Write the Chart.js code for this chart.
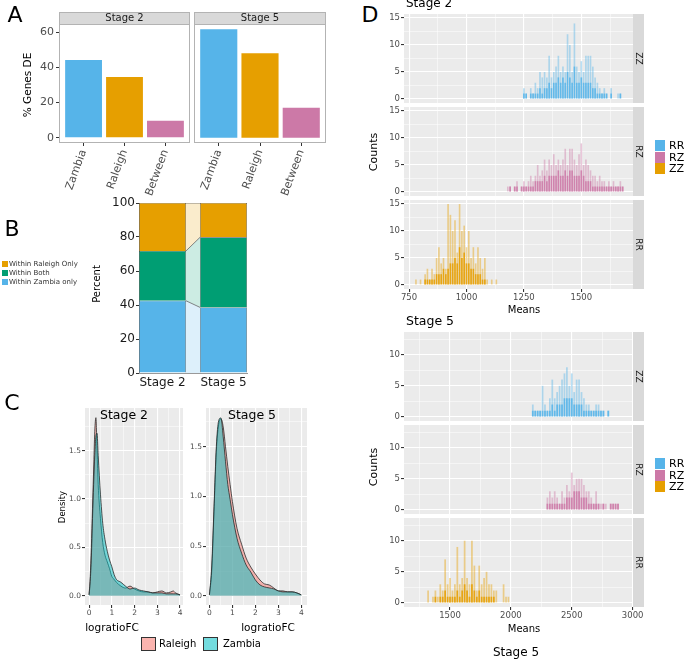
<!DOCTYPE html>
<html>
<head>
<meta charset="utf-8">
<title>DE genes by stage</title>
<script src="https://cdn.jsdelivr.net/npm/chart.js@4.4.1/dist/chart.umd.min.js"></script>
<style>
  body { margin: 0; background: #fff; }
  #fig { position: relative; width: 685px; height: 661px; overflow: hidden; font-family: "DejaVu Sans", sans-serif; }
  #fig canvas { position: absolute; }
  .lbl { position: absolute; white-space: nowrap; line-height: 1; z-index: 5; color: #000; }
  .c { transform: translate(-50%, -50%); }
  .r { transform: translate(-50%, -50%) rotate(-90deg); }
  .v { transform: translateY(-50%); }
  .key { position: absolute; z-index: 5; box-sizing: border-box; }
</style>
</head>
<body>
<div id="fig">
  <div class="lbl c" style="left:15px;top:15px;font-size:22px">A</div>
  <div class="lbl r" style="left:27px;top:85px;font-size:10.5px">% Genes DE</div>

  <div class="lbl c" style="left:12px;top:229px;font-size:22px">B</div>
  <div class="lbl r" style="left:97px;top:284px;font-size:10px">Percent</div>
  <div class="key" style="left:2px;top:261px;width:6px;height:6px;background:#E69F00"></div>
  <div class="lbl v" style="left:9px;top:264px;font-size:7px;color:#333">Within Raleigh Only</div>
  <div class="key" style="left:2px;top:270px;width:6px;height:6px;background:#009E73"></div>
  <div class="lbl v" style="left:9px;top:273px;font-size:7px;color:#333">Within Both</div>
  <div class="key" style="left:2px;top:279px;width:6px;height:6px;background:#56B4E9"></div>
  <div class="lbl v" style="left:9px;top:282px;font-size:7px;color:#333">Within Zambia only</div>

  <div class="lbl c" style="left:12px;top:403px;font-size:22px">C</div>
  <div class="lbl r" style="left:62px;top:507px;font-size:8.5px">Density</div>
  <div class="lbl c" style="left:124px;top:415px;font-size:12.5px">Stage 2</div>
  <div class="lbl c" style="left:252px;top:415px;font-size:12.5px">Stage 5</div>
  <div class="lbl c" style="left:112px;top:627px;font-size:10.5px">logratioFC</div>
  <div class="lbl c" style="left:268px;top:627px;font-size:10.5px">logratioFC</div>
  <div class="key" style="left:141px;top:637px;width:15px;height:14px;background:rgba(248,118,109,0.55);border:1.5px solid #333"></div>
  <div class="lbl v" style="left:159px;top:644px;font-size:10px">Raleigh</div>
  <div class="key" style="left:203px;top:637px;width:15px;height:14px;background:rgba(0,191,196,0.55);border:1.5px solid #333"></div>
  <div class="lbl v" style="left:223px;top:644px;font-size:10px">Zambia</div>

  <div class="lbl c" style="left:370px;top:15px;font-size:22px">D</div>
  <div class="lbl v" style="left:406px;top:3px;font-size:12px">Stage 2</div>
  <div class="lbl r" style="left:373px;top:152px;font-size:11px">Counts</div>
  <div class="lbl c" style="left:524px;top:310px;font-size:10px">Means</div>
  <div class="lbl v" style="left:406px;top:321px;font-size:12.5px">Stage 5</div>
  <div class="lbl r" style="left:373px;top:467px;font-size:11px">Counts</div>
  <div class="lbl c" style="left:524px;top:629px;font-size:10px">Means</div>
  <div class="lbl c" style="left:516px;top:652px;font-size:12px">Stage 5</div>

  <div class="key" style="left:655px;top:140px;width:10px;height:11px;background:#56B4E9"></div>
  <div class="lbl v" style="left:669px;top:145px;font-size:11px">RR</div>
  <div class="key" style="left:655px;top:151.5px;width:10px;height:11px;background:#CC79A7"></div>
  <div class="lbl v" style="left:669px;top:157px;font-size:11px">RZ</div>
  <div class="key" style="left:655px;top:163px;width:10px;height:11px;background:#E69F00"></div>
  <div class="lbl v" style="left:669px;top:168px;font-size:11px">ZZ</div>

  <div class="key" style="left:655px;top:458px;width:10px;height:11px;background:#56B4E9"></div>
  <div class="lbl v" style="left:669px;top:463px;font-size:11px">RR</div>
  <div class="key" style="left:655px;top:469.5px;width:10px;height:11px;background:#CC79A7"></div>
  <div class="lbl v" style="left:669px;top:475px;font-size:11px">RZ</div>
  <div class="key" style="left:655px;top:481px;width:10px;height:11px;background:#E69F00"></div>
  <div class="lbl v" style="left:669px;top:486px;font-size:11px">ZZ</div>
</div>
<script>
// ---- A: % genes DE ----
const groupsA = ['Zambia', 'Raleigh', 'Between'];
const stage2DE = [44.2, 34.6, 9.6];
const stage5DE = [61.7, 48.1, 17.0];
const colorsA = ['#56B4E9', '#E69F00', '#CC79A7'];
const ticksA = [0, 20, 40, 60];

// ---- B: category shares ----
const stagesB = ['Stage 2', 'Stage 5'];
const zambiaOnly = [42.5, 38.6];
const withinBoth = [29.3, 41.2];
const raleighOnly = [28.2, 20.2];
const ticksB = [0, 20, 40, 60, 80, 100];

// ---- C: logratioFC densities ----
const fcStage2 = [0, 0.05, 0.1, 0.15, 0.2, 0.25, 0.3, 0.35, 0.4, 0.5, 0.6, 0.7, 0.8, 0.9, 1.0, 1.1, 1.2, 1.4, 1.6, 1.8, 2.0, 2.2, 2.4, 2.6, 2.8, 3.0, 3.2, 3.4, 3.6, 3.7, 3.8, 4.0];
const raleighDens2 = [0.01, 0.2, 0.5, 0.9, 1.3, 1.7, 1.84, 1.5, 1.15, 0.8, 0.55, 0.42, 0.35, 0.28, 0.2, 0.17, 0.14, 0.1, 0.08, 0.1, 0.07, 0.05, 0.04, 0.04, 0.03, 0.04, 0.05, 0.03, 0.04, 0.05, 0.03, 0.01];
const zambiaDens2 = [0.01, 0.15, 0.4, 0.8, 1.15, 1.45, 1.65, 1.68, 1.45, 1.05, 0.75, 0.58, 0.46, 0.37, 0.3, 0.22, 0.17, 0.14, 0.1, 0.07, 0.08, 0.06, 0.05, 0.04, 0.03, 0.03, 0.03, 0.02, 0.02, 0.02, 0.02, 0.01];
const fcStage5 = [0, 0.1, 0.2, 0.3, 0.4, 0.5, 0.6, 0.7, 0.8, 0.9, 1.0, 1.2, 1.4, 1.6, 1.8, 2.0, 2.2, 2.4, 2.6, 2.8, 3.0, 3.2, 3.4, 3.6, 3.8, 4.0];
const raleighDens5 = [0.01, 0.25, 0.85, 1.45, 1.72, 1.78, 1.7, 1.5, 1.3, 1.12, 0.95, 0.68, 0.52, 0.38, 0.29, 0.22, 0.16, 0.12, 0.11, 0.08, 0.05, 0.05, 0.04, 0.04, 0.03, 0.01];
const zambiaDens5 = [0.01, 0.3, 0.9, 1.5, 1.76, 1.79, 1.6, 1.35, 1.12, 0.97, 0.82, 0.58, 0.43, 0.31, 0.24, 0.16, 0.11, 0.09, 0.08, 0.07, 0.05, 0.04, 0.04, 0.04, 0.03, 0.01];
const fcMajor = [0, 1, 2, 3, 4], fcMinor = [0.5, 1.5, 2.5, 3.5];
const densMajor = [0, 0.5, 1, 1.5], densMinor = [0.25, 0.75, 1.25, 1.75];

// ---- D: counts per mean bin (first bin, bin width, counts, dense core) ----
const s2ZZStart = 1250, s2RZStart = 1180, s2RRStart = 780, s2Bin = 10;
const s2ZZCounts = [2,1,0,2,1,3,2,5,4,5, 4,8,4,5,6,8,5,6,5,12, 10,5,14,6,5,7,5,8,8,8, 6,4,3,2,1,2,1,0,2,0, 0,1,1];
const s2ZZCore   = [1,1,0,1,1,1,1,2,1,2, 2,3,2,3,3,4,3,4,3,5, 4,3,6,3,3,4,3,3,3,3, 2,2,1,1,1,1,1,0,1,0, 0,0,1];
const s2RZCounts = [1,1,0,1,2,0,1,2,1,2, 3,2,3,5,3,4,6,4,6,5, 7,5,6,5,6,8,5,8,8,6, 5,7,9,5,6,5,4,3,3,2, 3,2,2,1,2,1,2,1,1,2, 1,0];
const s2RZCore   = [0,1,0,1,1,0,1,1,1,1, 1,1,2,2,2,2,3,2,3,3, 3,3,4,3,3,4,3,4,4,3, 3,3,4,3,2,2,2,1,1,1, 1,1,1,1,1,1,1,1,1,1, 1,0];
const s2RRCounts = [1,0,1,0,2,3,1,3,2,5, 7,4,5,3,15,13,10,12,6,15, 10,11,7,10,5,7,4,7,5,3, 5,1,0,1,0,1];
const s2RRCore   = [0,0,0,0,1,1,1,1,1,2, 2,2,3,2,3,4,4,5,4,7, 5,6,4,4,3,3,2,2,2,1, 1,0,0,0,0,0];
const s5ZZStart = 2180, s5RZStart = 2300, s5RRStart = 1320, s5Bin = 20;
const s5ZZCounts = [2,1,1,1,5,2,1,3,6,3, 4,5,6,7,8,5,7,4,6,6, 4,3,2,2,1,1,2,2,1,1, 0,1];
const s5ZZCore   = [1,1,1,1,1,1,1,1,2,1, 2,2,2,3,3,3,3,2,2,2, 2,1,1,1,1,1,1,1,1,1, 0,1];
const s5RZCounts = [2,3,2,3,2,1,3,2,4,3, 6,4,5,5,5,4,3,3,2,1, 3,1,1,1,1,0,1,1,1,1];
const s5RZCore   = [1,1,1,1,1,1,1,1,2,2, 2,3,3,3,2,2,2,1,1,1, 1,1,0,1,0,0,1,1,1,1];
const s5RRCounts = [2,0,1,2,1,3,2,7,3,4, 2,3,9,3,4,10,4,3,10,6, 2,6,3,4,5,3,3,2,2,0, 0,3,1,1,0];
const s5RRCore   = [0,0,0,1,0,1,1,2,1,1, 1,1,2,1,2,3,2,1,3,2, 1,2,1,1,1,1,1,1,0,0, 0,0,0,0,0];
const stage2Axes = { xr: [728, 1725], xMaj: [750, 1000, 1250, 1500], xMin: [875, 1125, 1375, 1625],
                     yr: [-0.75, 15.75], yMaj: [0, 5, 10, 15], yMin: [2.5, 7.5, 12.5] };
const stage5Axes = { xr: [1122, 3003], xMaj: [1500, 2000, 2500, 3000], xMin: [1250, 1750, 2250, 2750],
                     yr: [-0.65, 13.65], yMaj: [0, 5, 10], yMin: [2.5, 7.5, 12.5] };
const blue = '86,180,233', pink = '204,121,167', orange = '230,159,0';

Chart.defaults.font.family = "'DejaVu Sans', sans-serif";
const fig = document.getElementById('fig');
const isIn = (arr, v) => arr.some(m => Math.abs(m - v) < 1e-6);

// canvas placed so the plot area lands on rect [left, top, right, bottom]
function mount(rect, yw, pt, pr, xh) {
    const cv = document.createElement('canvas');
    const w = rect[2] - rect[0] + yw + pr;
    const h = rect[3] - rect[1] + pt + xh;
    cv.width = w; cv.height = h;
    cv.style.left = (rect[0] - yw) + 'px';
    cv.style.top = (rect[1] - pt) + 'px';
    cv.style.width = w + 'px';
    cv.style.height = h + 'px';
    fig.appendChild(cv);
    return cv;
}

// panel background, frame and facet strip
const panelPlugin = opt => ({
    id: 'panel',
    beforeDraw(chart) {
        if (!opt.bg) return;
        const { ctx, chartArea: a } = chart;
        ctx.save();
        ctx.fillStyle = opt.bg;
        ctx.fillRect(a.left, a.top, a.width, a.height);
        ctx.restore();
    },
    afterDraw(chart) {
        const { ctx, chartArea: a } = chart;
        ctx.save();
        if (opt.frame) {
            ctx.strokeStyle = opt.frame; ctx.lineWidth = 1;
            ctx.strokeRect(a.left + 0.5, a.top + 0.5, a.width - 1, a.height - 1);
        }
        const s = opt.strip;
        if (s) {
            ctx.font = s.font; ctx.textAlign = 'center'; ctx.textBaseline = 'middle';
            ctx.fillStyle = '#D9D9D9';
            if (s.side === 'top') {
                ctx.fillRect(a.left, a.top - s.size, a.width, s.size);
                ctx.strokeStyle = opt.frame; ctx.lineWidth = 1;
                ctx.strokeRect(a.left + 0.5, a.top - s.size + 0.5, a.width - 1, s.size);
                ctx.fillStyle = '#1A1A1A';
                ctx.fillText(s.text, a.left + a.width / 2, a.top - s.size / 2 + 0.5);
            } else {
                ctx.fillRect(a.right, a.top, s.size, a.height);
                ctx.translate(a.right + s.size / 2, a.top + a.height / 2);
                ctx.rotate(Math.PI / 2);
                ctx.fillStyle = '#1A1A1A';
                ctx.fillText(s.text, 0, 0);
            }
        }
        ctx.restore();
    }
});

const baseOptions = (pt, pr) => ({
    responsive: false, animation: false, devicePixelRatio: 1,
    layout: { padding: { left: 0, top: pt, right: pr, bottom: 0 } },
    plugins: { legend: { display: false }, tooltip: { enabled: false } }
});

// grey-panel axis with white major/minor grid
function ggScale(range, major, minor, fmt, show, size, fitFn) {
    const isMajor = c => c.tick && isIn(major, c.tick.value);
    return {
        type: 'linear', min: range[0], max: range[1], offset: false,
        border: { display: false },
        afterBuildTicks: s => {
            s.ticks = major.concat(minor).filter(v => v >= range[0] && v <= range[1])
                .sort((a, b) => a - b).map(v => ({ value: v }));
        },
        afterFit: fitFn,
        grid: {
            offset: false, color: '#FFFFFF',
            lineWidth: c => isMajor(c) ? 1.1 : 0.5,
            drawTicks: show, tickLength: 3,
            tickColor: c => isMajor(c) ? '#333333' : 'rgba(0,0,0,0)'
        },
        ticks: {
            display: show, autoSkip: false, minRotation: 0, maxRotation: 0, padding: 1,
            color: '#4D4D4D', font: { size }, callback: v => isIn(major, v) ? fmt(v) : ''
        }
    };
}

// ---- A ----
function barFacetA(rect, values, stripText, showY) {
    const yw = showY ? 59 : 0, pt = 24, pr = 2, xh = 57;
    const cv = mount(rect, yw, pt, pr, xh);
    new Chart(cv, {
        type: 'bar',
        data: { datasets: [{
            data: values.map((v, i) => ({ x: i + 1, y: v })),
            backgroundColor: colorsA, borderWidth: 0, barPercentage: 0.9, categoryPercentage: 1
        }] },
        options: {
            ...baseOptions(pt, pr),
            scales: {
                x: {
                    type: 'linear', min: 0.4, max: 3.6, offset: false,
                    afterBuildTicks: s => { s.ticks = groupsA.map((g, i) => ({ value: i + 1 })); },
                    afterFit: s => { s.height = xh; },
                    border: { display: false },
                    grid: { offset: false, drawOnChartArea: false, drawTicks: true, tickLength: 3, tickColor: '#333' },
                    ticks: { autoSkip: false, minRotation: 70, maxRotation: 70, padding: 2, color: '#4D4D4D',
                             font: { size: 11 }, callback: v => groupsA[v - 1] }
                },
                y: {
                    display: showY, min: -3, max: 64.7,
                    afterBuildTicks: s => { s.ticks = ticksA.map(v => ({ value: v })); },
                    afterFit: s => { s.width = yw; },
                    border: { display: false },
                    grid: { drawOnChartArea: false, drawTicks: true, tickLength: 3, tickColor: '#333' },
                    ticks: { padding: 2, color: '#4D4D4D', font: { size: 11 } }
                }
            }
        },
        plugins: [panelPlugin({ frame: '#B3B3B3',
            strip: { side: 'top', size: 12, text: stripText, font: "10px 'DejaVu Sans'" } })]
    });
}
barFacetA([59, 24, 190, 143], stage2DE, 'Stage 2', true);
barFacetA([194, 24, 326, 143], stage5DE, 'Stage 5', false);

// ---- B ----
const bFrac = 0.77;
const flowX = [1 + bFrac / 2, 2 - bFrac / 2];
const flow = (vals, color, fill) => ({
    type: 'line', data: vals.map((v, i) => ({ x: flowX[i], y: v })), fill,
    backgroundColor: color, borderColor: '#666', borderWidth: 0.8, pointRadius: 0, order: 2
});
const seg = (vals, color) => ({
    data: vals.map((v, i) => ({ x: i + 1, y: v })), backgroundColor: color,
    borderColor: '#444', borderWidth: 0.6, barPercentage: bFrac, categoryPercentage: 1, order: 1, clip: false
});
(() => {
    const yw = 39, pt = 10, pr = 6, xh = 20;
    const cv = mount([139, 203, 247, 373], yw, pt, pr, xh);
    new Chart(cv, {
        type: 'bar',
        data: { datasets: [
            flow(zambiaOnly, 'rgba(86,180,233,0.2)', 'origin'),
            flow(withinBoth, 'rgba(0,158,115,0.2)', '-1'),
            flow(raleighOnly, 'rgba(230,159,0,0.2)', '-1'),
            seg(zambiaOnly, '#56B4E9'),
            seg(withinBoth, '#009E73'),
            seg(raleighOnly, '#E69F00')
        ] },
        options: {
            ...baseOptions(pt, pr),
            scales: {
                x: {
                    type: 'linear', stacked: true, min: 1 - bFrac / 2, max: 2 + bFrac / 2, offset: false,
                    afterBuildTicks: s => { s.ticks = stagesB.map((g, i) => ({ value: i + 1 })); },
                    afterFit: s => { s.height = xh; },
                    border: { display: true, color: '#999' },
                    grid: { offset: false, drawOnChartArea: false, drawTicks: false },
                    ticks: { autoSkip: false, maxRotation: 0, padding: 3, color: '#1A1A1A', font: { size: 12 },
                             callback: v => stagesB[v - 1] }
                },
                y: {
                    stacked: true, min: 0, max: 100,
                    afterBuildTicks: s => { s.ticks = ticksB.map(v => ({ value: v })); },
                    afterFit: s => { s.width = yw; },
                    border: { display: true, color: '#999' },
                    grid: { drawOnChartArea: false, drawTicks: true, tickLength: 3, tickColor: '#333' },
                    ticks: { padding: 1, color: '#1A1A1A', font: { size: 12 } }
                }
            }
        }
    });
})();

// ---- C ----
function densityFacet(rect, xs, ral, zam, xr, yr) {
    const yw = 30, pt = 6, pr = 4, xh = 14;
    const cv = mount(rect, yw, pt, pr, xh);
    const line = (ys, fill, order) => ({
        data: ys.map((y, i) => ({ x: xs[i], y })), fill: 'origin', backgroundColor: fill,
        borderColor: '#2B2B2B', borderWidth: 0.8, pointRadius: 0, cubicInterpolationMode: 'monotone', order
    });
    new Chart(cv, {
        type: 'line',
        data: { datasets: [line(ral, 'rgba(248,118,109,0.5)', 2), line(zam, 'rgba(0,191,196,0.5)', 1)] },
        options: {
            ...baseOptions(pt, pr),
            scales: {
                x: ggScale(xr, fcMajor, fcMinor, String, true, 7.5, s => { s.height = xh; }),
                y: ggScale(yr, densMajor, densMinor, v => v.toFixed(1), true, 7.5, s => { s.width = yw; })
            }
        },
        plugins: [panelPlugin({ bg: '#EBEBEB' })]
    });
}
densityFacet([85, 408, 183, 605], fcStage2, raleighDens2, zambiaDens2, [-0.18, 4.13], [-0.095, 1.94]);
densityFacet([206, 408, 307, 605], fcStage5, raleighDens5, zambiaDens5, [-0.15, 4.25], [-0.092, 1.89]);

// ---- D ----
function histFacet(rect, ax, start, bin, counts, core, rgb, stripText, showX) {
    const yw = 24, pt = 8, pr = 12, xh = showX ? 16 : 7;
    const cv = mount(rect, yw, pt, pr, xh);
    const pts = arr => arr.map((c, i) => ({ x: start + i * bin, y: c }));
    const bars = (arr, alpha, order) => ({
        data: pts(arr), backgroundColor: `rgba(${rgb},${alpha})`, borderWidth: 0,
        grouped: false, barPercentage: 0.72, categoryPercentage: 1, order
    });
    new Chart(cv, {
        type: 'bar',
        data: { datasets: [bars(counts, 0.42, 2), bars(core, 0.85, 1)] },
        options: {
            ...baseOptions(pt, pr),
            scales: {
                x: ggScale(ax.xr, ax.xMaj, ax.xMin, String, showX, 8.5, s => { s.height = xh; }),
                y: ggScale(ax.yr, ax.yMaj, ax.yMin, String, true, 8.5, s => { s.width = yw; })
            }
        },
        plugins: [panelPlugin({ bg: '#EBEBEB',
            strip: { side: 'right', size: 11, text: stripText, font: "9px 'DejaVu Sans'" } })]
    });
}
histFacet([404, 14, 633, 103], stage2Axes, s2ZZStart, s2Bin, s2ZZCounts, s2ZZCore, blue, 'ZZ', false);
histFacet([404, 107, 633, 196], stage2Axes, s2RZStart, s2Bin, s2RZCounts, s2RZCore, pink, 'RZ', false);
histFacet([404, 200, 633, 289], stage2Axes, s2RRStart, s2Bin, s2RRCounts, s2RRCore, orange, 'RR', true);
histFacet([404, 332, 633, 421], stage5Axes, s5ZZStart, s5Bin, s5ZZCounts, s5ZZCore, blue, 'ZZ', false);
histFacet([404, 425, 633, 514], stage5Axes, s5RZStart, s5Bin, s5RZCounts, s5RZCore, pink, 'RZ', false);
histFacet([404, 518, 633, 607], stage5Axes, s5RRStart, s5Bin, s5RRCounts, s5RRCore, orange, 'RR', true);
</script>
</body>
</html>
